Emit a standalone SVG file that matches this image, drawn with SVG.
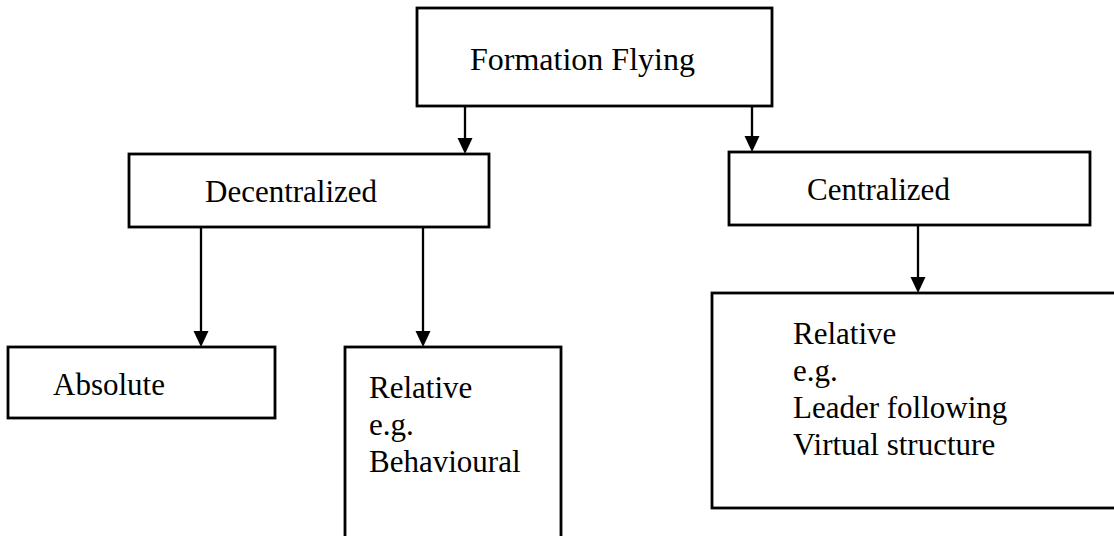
<svg xmlns="http://www.w3.org/2000/svg" width="1114" height="536" viewBox="0 0 1114 536">
<style>
.box{fill:#fff;stroke:#000;stroke-width:2.8}
.lbl{font-family:"Liberation Serif","Times New Roman",serif;font-size:31px;fill:#000}
.big{font-size:32px}
.ln{stroke:#000;stroke-width:2.3;fill:none}
.ah{fill:#000}
</style>
<rect width="1114" height="536" fill="#fff"/>
<g id="n-formation"><rect class="box" x="417" y="8" width="355" height="98"/><text class="lbl big" x="470" y="70">Formation Flying</text></g>
<g id="n-decentralized"><rect class="box" x="129" y="154" width="360" height="73"/><text class="lbl" x="205" y="202">Decentralized</text></g>
<g id="n-centralized"><rect class="box" x="729" y="152" width="361" height="73"/><text class="lbl" x="807" y="200">Centralized</text></g>
<g id="n-absolute"><rect class="box" x="8" y="347" width="267" height="71"/><text class="lbl" x="53" y="395">Absolute</text></g>
<g id="n-relative-left"><rect class="box" x="345" y="347" width="216" height="200"/><text class="lbl" x="369" y="398">Relative</text><text class="lbl" x="369" y="435">e.g.</text><text class="lbl" x="369" y="472">Behavioural</text></g>
<g id="n-relative-right"><rect class="box" x="712" y="293" width="410" height="215"/><text class="lbl" x="793" y="344">Relative</text><text class="lbl" x="793" y="381">e.g.</text><text class="lbl" x="793" y="418">Leader following</text><text class="lbl" x="793" y="455">Virtual structure</text></g>
<g id="connectors">
<line class="ln" x1="465" y1="106" x2="465" y2="140"/>
<polygon class="ah" points="457.5,138 472.5,138 465,154"/>
<line class="ln" x1="752" y1="106" x2="752" y2="138"/>
<polygon class="ah" points="744.5,136 759.5,136 752,152"/>
<line class="ln" x1="201" y1="227" x2="201" y2="333"/>
<polygon class="ah" points="193.5,331 208.5,331 201,347"/>
<line class="ln" x1="423" y1="227" x2="423" y2="333"/>
<polygon class="ah" points="415.5,331 430.5,331 423,347"/>
<line class="ln" x1="918" y1="225" x2="918" y2="279"/>
<polygon class="ah" points="910.5,277 925.5,277 918,293"/>
</g>
</svg>
